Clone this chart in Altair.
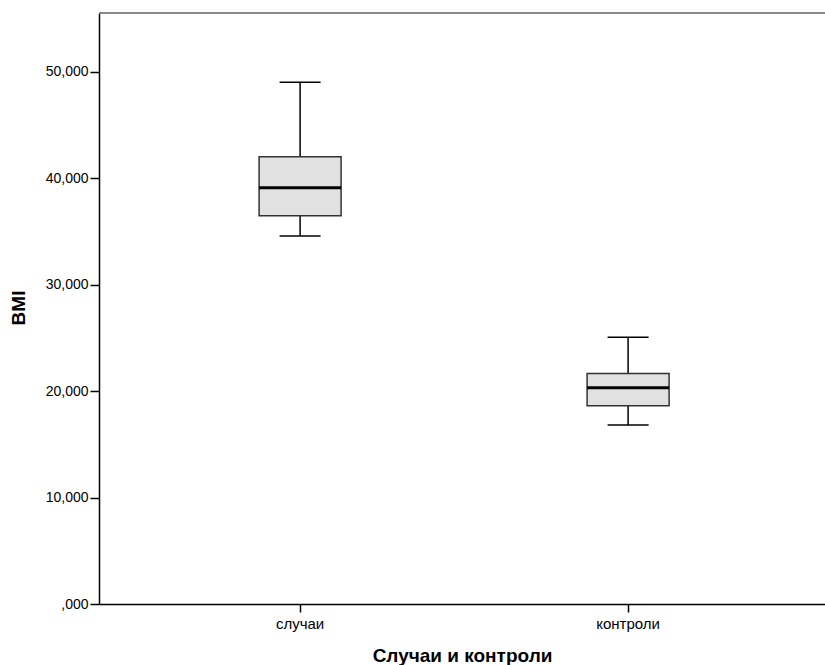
import altair as alt
import pandas as pd

groups = ["случаи", "контроли"]
whisker_low = [34.55, 16.80]
q1 = [36.45, 18.62]
median = [39.10, 20.30]
q3 = [42.00, 21.65]
whisker_high = [49.00, 25.04]

df = pd.DataFrame({
    "group": groups,
    "lo": whisker_low,
    "q1": q1,
    "med": median,
    "q3": q3,
    "hi": whisker_high,
})

W, H = 726, 591
FONT = "Liberation Sans"

xenc = alt.X(
    "group:N",
    sort=groups,
    title="Случаи и контроли",
    scale=alt.Scale(paddingInner=0, paddingOuter=0.1067, align=0.53),
    axis=alt.Axis(
        labelAngle=0, labelFont=FONT, labelFontSize=15, labelColor="#000",
        titleFont=FONT, titleFontSize=19, titleFontWeight="bold", titleColor="#000",
        titleY=57, titleBaseline="alphabetic",
        domainColor="#000", domainWidth=1.5, tickColor="#000", tickSize=8,
        tickWidth=1.5, labelPadding=4,
    ),
)
yscale = alt.Scale(domain=[0, 55.5], nice=False, zero=True)
yaxis = alt.Axis(
    values=[0, 10, 20, 30, 40, 50],
    labelExpr="datum.value == 0 ? ',000' : replace(format(datum.value, '.3f'), '.', ',')",
    labelFont=FONT, labelFontSize=14, labelColor="#000",
    title="BMI", titleFont=FONT, titleFontSize=19, titleFontWeight="bold", titleColor="#000",
    titleX=-71, titleY=H / 2 - 1, titleAngle=-90, titleBaseline="bottom", titleAlign="center",
    domainColor="#000", domainWidth=1.5, tickColor="#000", tickSize=9, tickWidth=1.5,
    labelPadding=2, grid=False,
)

base = alt.Chart(df)

whisk_up = base.mark_rule(color="#000", strokeWidth=1.5).encode(
    x=xenc, y=alt.Y("q3:Q", scale=yscale, axis=yaxis), y2="hi:Q")
whisk_dn = base.mark_rule(color="#000", strokeWidth=1.5).encode(
    x=xenc, y=alt.Y("lo:Q", scale=yscale, axis=yaxis), y2="q1:Q")
box = base.mark_bar(size=82, fill="#e1e1e1", stroke="#333", strokeWidth=1.5, opacity=1).encode(
    x=xenc, y=alt.Y("q1:Q", scale=yscale, axis=yaxis), y2="q3:Q")
med = base.mark_tick(size=82, thickness=3, color="#000", opacity=1).encode(
    x=xenc, y=alt.Y("med:Q", scale=yscale, axis=yaxis))
cap_hi = base.mark_tick(size=41, thickness=1.5, color="#000", opacity=1).encode(
    x=xenc, y=alt.Y("hi:Q", scale=yscale, axis=yaxis))
cap_lo = base.mark_tick(size=41, thickness=1.5, color="#000", opacity=1).encode(
    x=xenc, y=alt.Y("lo:Q", scale=yscale, axis=yaxis))

top_border = alt.Chart(pd.DataFrame({"k": [0]})).mark_rule(color="#888", strokeWidth=2).encode(
    x=alt.value(0), x2=alt.value(W + 10), y=alt.value(0))

chart = alt.layer(whisk_up, whisk_dn, box, med, cap_hi, cap_lo, top_border).properties(
    width=W, height=H,
    autosize=alt.AutoSizeParams(type="none"),
    padding={"left": 99, "top": 13, "right": 0, "bottom": 61},
).configure_view(stroke=None).configure(background="white")

chart.save("out.html", embed_options={"renderer": "svg", "actions": False})
